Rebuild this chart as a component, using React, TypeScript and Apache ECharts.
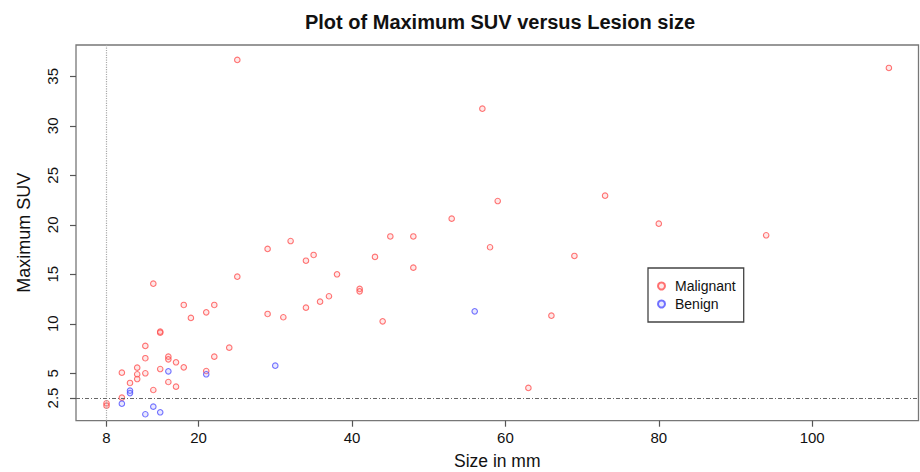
import React, { useEffect, useRef } from "react";
import * as echarts from "echarts";

// Malignant lesions: [size in mm, maximum SUV]
const malignant: [number, number][] = [
  [8, 1.97], [8, 1.73], [10, 2.54], [10, 5.06], [11.06, 4.02], [12, 5.57],
  [12, 4.9], [12, 4.42], [13.06, 7.76], [13.06, 6.52], [13.06, 5.0],
  [14.1, 14.05], [14.1, 3.31], [15, 9.2], [15, 9.1], [15, 5.43], [16.06, 6.68],
  [16.06, 6.41], [16.06, 4.12], [17.06, 6.11], [17.06, 3.65], [18.07, 11.9],
  [18.07, 5.6], [19, 10.59], [21, 11.16], [21, 5.23], [22.05, 11.9],
  [22.05, 6.68], [24, 7.59], [25.05, 14.76], [25.05, 36.65], [29, 17.56],
  [29, 10.99], [31.05, 10.66], [32, 18.36], [34, 16.37], [34, 11.63],
  [35, 16.95], [35.84, 12.23], [37, 12.78], [38.05, 15.0], [41, 13.52],
  [41, 13.28], [43, 16.75], [44, 10.25], [45, 18.82], [48, 18.82],
  [48, 15.67], [53, 20.62], [57, 31.73], [58, 17.73], [59, 22.4], [63, 3.52],
  [66, 10.82], [69, 16.85], [73, 22.94], [80, 20.11], [94, 18.94], [110, 35.84],
];

// Benign lesions: [size in mm, maximum SUV]
const benign: [number, number][] = [
  [10, 1.93], [11.06, 3.24], [11.06, 3.0], [13.06, 0.86], [14.1, 1.63],
  [15, 1.06], [16.06, 5.2], [21, 4.9], [30, 5.77], [56, 11.26],
];

const xTicks = [8, 20, 40, 60, 80, 100];
const yTicks = [2.5, 5, 10, 15, 20, 25, 30, 35];
const sizeCutoff = 8;
const suvCutoff = 2.5;

const FONT = "'Liberation Sans', Arial, sans-serif";

export default function App() {
  const ref = useRef<HTMLDivElement>(null);
  useEffect(() => {
    if (!ref.current) return;
    const chart = echarts.init(ref.current, null, { renderer: "svg" });
    const markerBase = {
      type: "scatter" as const,
      symbol: "circle",
      symbolSize: 5.5,
    };
    chart.setOption({
      animation: false,
      backgroundColor: "#ffffff",
      textStyle: { fontFamily: FONT },
      title: {
        text: "Plot of Maximum SUV versus Lesion size",
        left: 495,
        top: 7,
        textAlign: "center",
        textStyle: { fontFamily: FONT, fontSize: 20, fontWeight: "bold", color: "#111" },
      },
      legend: {
        orient: "vertical",
        left: 648,
        top: 268,
        itemWidth: 7,
        itemHeight: 7,
        itemGap: 4,
        padding: [11, 8, 11, 9],
        borderColor: "#444",
        borderWidth: 1.3,
        borderRadius: 0,
        textStyle: { fontFamily: FONT, fontSize: 14, color: "#111", padding: [0, 0, 0, 5] },
        data: ["Malignant", "Benign"],
      },
      grid: {
        left: 76,
        top: 45,
        right: 1.5,
        bottom: 51.3,
        show: true,
        borderColor: "#777",
        borderWidth: 1.3,
        containLabel: false,
        outerBoundsMode: "none",
      },
      xAxis: {
        type: "value",
        min: 4.02,
        max: 113.86,
        name: "Size in mm",
        nameLocation: "middle",
        nameGap: 31,
        nameTextStyle: { fontFamily: FONT, fontSize: 17.5, color: "#111" },
        axisLine: { show: false },
        splitLine: { show: false },
        axisTick: {
          show: true,
          length: 6,
          customValues: xTicks,
          lineStyle: { color: "#555", width: 1.2 },
        },
        axisLabel: {
          customValues: xTicks,
          fontFamily: FONT,
          fontSize: 15,
          color: "#111",
          margin: 9,
        },
      },
      yAxis: {
        type: "value",
        min: 0.21,
        max: 38.16,
        name: "Maximum SUV",
        nameLocation: "middle",
        nameGap: 43,
        nameTextStyle: { fontFamily: FONT, fontSize: 18, color: "#111" },
        axisLine: { show: false },
        splitLine: { show: false },
        axisTick: {
          show: true,
          length: 6,
          customValues: yTicks,
          lineStyle: { color: "#555", width: 1.2 },
        },
        axisLabel: {
          customValues: yTicks,
          rotate: 90,
          fontFamily: FONT,
          fontSize: 15,
          color: "#111",
          margin: 16,
        },
      },
      series: [
        {
          ...markerBase,
          name: "Malignant",
          data: malignant,
          itemStyle: { color: "rgba(255,140,140,0.25)", borderColor: "#ff5050", borderWidth: 1.1 },
          markLine: {
            silent: true,
            symbol: "none",
            label: { show: false },
            data: [
              { xAxis: sizeCutoff, lineStyle: { type: "dotted", color: "#aaa", width: 1.2 } },
              { yAxis: suvCutoff, lineStyle: { type: [4, 2, 1, 2], color: "#666", width: 1.2 } },
            ],
          },
        },
        {
          ...markerBase,
          name: "Benign",
          data: benign,
          itemStyle: { color: "rgba(140,140,255,0.25)", borderColor: "#5050ff", borderWidth: 1.1 },
        },
      ],
    });
    return () => chart.dispose();
  }, []);
  return (
    <div
      ref={ref}
      style={{ position: "absolute", left: 0, top: 0, width: 920, height: 472, background: "#fff" }}
    />
  );
}
